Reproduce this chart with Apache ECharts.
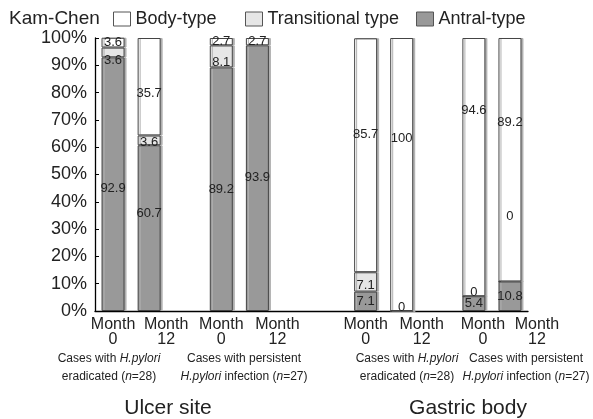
<!DOCTYPE html>
<html>
<head>
<meta charset="utf-8">
<script src="https://cdn.jsdelivr.net/npm/echarts@6/dist/echarts.min.js"></script>
<style>
  html, body { margin: 0; padding: 0; background: #fff; }
  #chart { width: 593px; height: 419px; }
</style>
</head>
<body>
<div id="chart"></div>
<script>
// 12 slots on the category axis, empty ones separate the groups
var categories = ["Month\n0", "Month\n12", "", "Month\n0", "Month\n12", "", "", "Month\n0", "Month\n12", "", "Month\n0", "Month\n12"];
var antral = [92.9, 60.7, "-", 89.2, 97.3, "-", "-", 7.1, 0, "-", 5.4, 10.8];
var antralPrinted = ["92.9", "60.7", "", "89.2", "93.9", "", "", "7.1", "", "", "5.4", "10.8"];
var transitional = [3.6, 3.6, "-", 8.1, "-", "-", "-", 7.1, 0, "-", 0, 0];
var body = [3.6, 35.7, "-", 2.7, 2.7, "-", "-", 85.7, 100, "-", 94.6, 89.2];
var yTicks = [0, 10, 20, 30, 40, 50, 60, 70, 80, 90, 100];

// label nudges (px) so the numbers sit where the original put them
var antralNudge = [4, -15, 0, 0, -1, 0, 0, 0, -4, 0, 0, 0];
var transNudge = [8, 2, 0, 6, 0, 0, 0, 3, -4, 0, -4, -65];
var bodyNudge = [0, 7, 0, 0, 0, 0, 0, -21, -36, 0, -57, -37];
// x label shift (px) to the right
var monthShift = [0, 17, 0, 0, 20, 0, 0, 0, 20, 0, 9, 27];

var font = "Liberation Sans";
var chart = echarts.init(document.getElementById("chart"));

function barSeries(name, values, color, nudge, printed) {
  return {
    name: name,
    type: "bar",
    stack: "all",
    barWidth: 23,
    data: values.map(function (v, i) {
      return { value: v, label: { offset: [0, nudge[i]] } };
    }),
    itemStyle: {
      color: color,
      borderColor: "#444",
      borderWidth: 1,
      shadowColor: "#b0b0b0",
      shadowOffsetX: 2,
      shadowBlur: 0
    },
    label: {
      show: true,
      position: "inside",
      color: "#222",
      fontFamily: font,
      fontSize: 13,
      formatter: function (p) {
        if (printed) return printed[p.dataIndex];
        return String(p.value);
      }
    }
  };
}

var labelRich = {};
monthShift.forEach(function (s, i) {
  labelRich["s" + i] = { fontFamily: font, fontSize: 16, lineHeight: 15, color: "#222", padding: [0, 0, 0, 2 * s] };
});

var option = {
  animation: false,
  title: {
    text: "Kam-Chen",
    left: 4,
    top: 4,
    textStyle: { fontFamily: font, fontSize: 19, fontWeight: "normal", color: "#222" }
  },
  legend: [
    { data: ["Body-type"], left: 113, top: 10 },
    { data: ["Transitional type"], left: 245, top: 10 },
    { data: ["Antral-type"], left: 416, top: 10 }
  ].map(function (l) {
    l.icon = "rect";
    l.padding = 0;
    l.itemWidth = 17;
    l.itemHeight = 14;
    l.itemStyle = { borderColor: "#555", borderWidth: 1, shadowBlur: 0, shadowOffsetX: 0 };
    l.textStyle = { fontFamily: font, fontSize: 18, color: "#222" };
    return l;
  }),
  grid: { left: 95, right: 65, top: 38, bottom: 108 },
  xAxis: {
    type: "category",
    data: categories,
    axisLine: { lineStyle: { color: "#000", width: 1.3 } },
    axisTick: { inside: true, length: 4, lineStyle: { color: "#000" } },
    axisLabel: {
      interval: 0,
      margin: 6,
      color: "#222",
      rich: labelRich,
      formatter: function (v, i) {
        if (!v) return "";
        return v.split("\n").map(function (line) {
          return "{s" + i + "|" + line + "}";
        }).join("\n");
      }
    }
  },
  yAxis: {
    type: "value",
    min: yTicks[0],
    max: yTicks[yTicks.length - 1],
    interval: 10,
    splitLine: { show: false },
    axisLine: { show: true, lineStyle: { color: "#000", width: 1.3 } },
    axisTick: { show: true, inside: true, length: 4, lineStyle: { color: "#000" } },
    axisLabel: {
      formatter: "{value}%",
      fontFamily: font,
      fontSize: 18,
      color: "#222",
      margin: 8,
      padding: [5, 0, 0, 0]
    }
  },
  series: [
    barSeries("Antral-type", antral, "#999999", antralNudge, antralPrinted),
    barSeries("Transitional type", transitional, "#e6e6e6", transNudge),
    barSeries("Body-type", body, "#ffffff", bodyNudge)
  ],
  graphic: [
    groupLabel(109, "28", true),
    groupLabel(244, "27", false),
    groupLabel(407, "28", true),
    groupLabel(526, "27", false),
    {
      type: "text", x: 168, y: 408,
      style: { text: "Ulcer site", fontFamily: font, fontSize: 21, fill: "#222", align: "center", verticalAlign: "middle" }
    },
    {
      type: "text", x: 468, y: 408,
      style: { text: "Gastric body", fontFamily: font, fontSize: 21, fill: "#222", align: "center", verticalAlign: "middle" }
    }
  ]
};

function groupLabel(x, n, eradicated) {
  var txt = eradicated
    ? "{r|Cases with }{i|H.pylori}\n{r|eradicated (}{i|n}{r|=" + n + ")}"
    : "{r|Cases with persistent}\n{i|H.pylori}{r| infection (}{i|n}{r|=" + n + ")}";
  return {
    type: "text",
    x: x,
    y: 368,
    style: {
      text: txt,
      align: "center",
      verticalAlign: "middle",
      rich: {
        r: { fontFamily: font, fontSize: 12, lineHeight: 18, fill: "#222" },
        i: { fontFamily: font, fontSize: 12, lineHeight: 18, fontStyle: "italic", fill: "#222" }
      }
    }
  };
}

chart.setOption(option);
</script>
</body>
</html>
